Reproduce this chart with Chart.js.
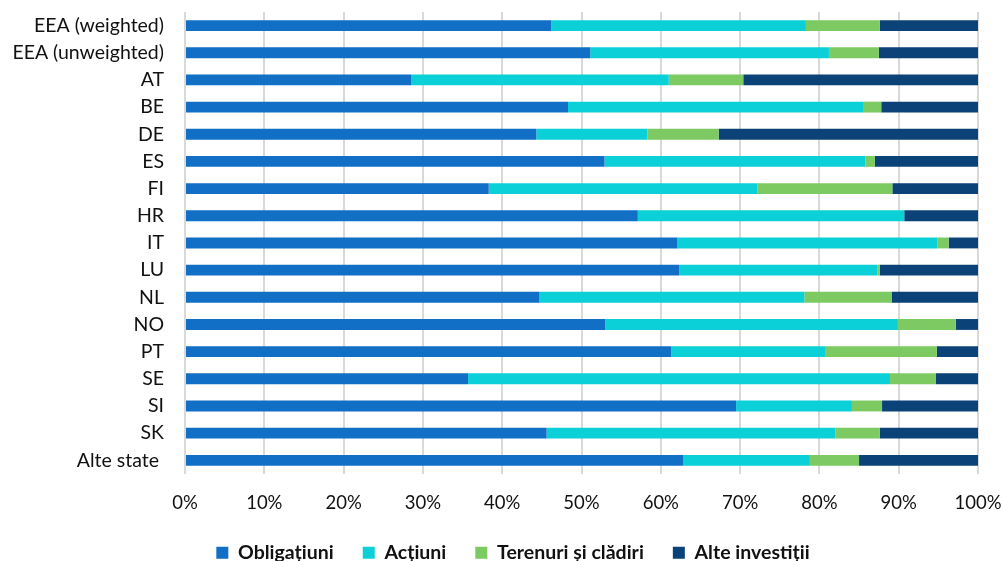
<!DOCTYPE html>
<html>
<head>
<meta charset="utf-8">
<script src="https://cdn.jsdelivr.net/npm/chart.js@4/dist/chart.umd.min.js"></script>
<style>
  html, body { margin: 0; padding: 0; background: #ffffff; overflow: hidden; }
  #wrap { width: 1002px; height: 561px; }
</style>
</head>
<body>
<div id="wrap"><canvas id="c" width="1002" height="561"></canvas></div>
<script>
const categories = ["EEA (weighted)", "EEA (unweighted)", "AT", "BE", "DE", "ES", "FI", "HR", "IT", "LU", "NL", "NO", "PT", "SE", "SI", "SK", "Alte state "];
const obligatiuni = [46.2, 51.1, 28.5, 48.3, 44.3, 52.9, 38.3, 57.1, 62.1, 62.3, 44.7, 53.0, 61.3, 35.7, 69.5, 45.6, 62.8];
const actiuni     = [32.1, 30.1, 32.5, 37.3, 14.0, 32.9, 33.9, 33.6, 32.8, 25.0, 33.4, 36.9, 19.5, 53.2, 14.6, 36.4, 16.0];
const terenuri    = [9.3, 6.3, 9.4, 2.2, 9.0, 1.2, 17.0, 0.0, 1.4, 0.3, 11.0, 7.3, 14.0, 5.8, 3.8, 5.6, 6.2];
const alte        = [12.4, 12.5, 29.6, 12.2, 32.7, 13.0, 10.8, 9.3, 3.7, 12.4, 10.9, 2.8, 5.2, 5.3, 12.1, 12.4, 15.0];
const seriesNames = ["Obligațiuni", "Acțiuni", "Terenuri și clădiri", "Alte investiții"];
const seriesColors = ["#116fc6", "#0cd0d8", "#7dca62", "#0b4278"];
const xTicks = [0, 10, 20, 30, 40, 50, 60, 70, 80, 90, 100];

const FONT = "Lato, 'Open Sans', sans-serif";
const TEXT = '#111111';
const seriesData = [obligatiuni, actiuni, terenuri, alte];

const legendShift = {
  id: 'legendShift',
  afterLayout(chart) {
    const l = chart.legend;
    if (l) { l.left += 24; l.right += 24; }
  }
};

new Chart(document.getElementById('c'), {
  type: 'bar',
  data: {
    labels: categories,
    datasets: seriesNames.map((n, i) => ({
      label: n,
      data: seriesData[i],
      backgroundColor: seriesColors[i],
      borderWidth: 0,
      barPercentage: 0.4,
      categoryPercentage: 1.0
    }))
  },
  plugins: [legendShift],
  options: {
    indexAxis: 'y',
    responsive: false,
    animation: false,
    layout: { padding: { top: 12, right: 24, left: 0, bottom: -11.6 } },
    scales: {
      x: {
        stacked: true,
        min: 0, max: 100,
        afterBuildTicks: (s) => { s.ticks = xTicks.map(v => ({ value: v })); },
        ticks: {
          callback: (v) => v + '%',
          color: TEXT,
          font: { family: FONT, size: 18.5 },
          padding: 0,
          maxRotation: 0
        },
        grid: { color: '#d9d9d9', lineWidth: 2, drawTicks: true, tickLength: 18, tickColor: 'rgba(0,0,0,0)' },
        border: { display: false }
      },
      y: {
        stacked: true,
        afterFit: (s) => { s.width = 185; },
        ticks: {
          color: TEXT,
          font: { family: FONT, size: 19.5 },
          padding: 0,
          autoSkip: false
        },
        grid: { display: true, drawOnChartArea: false, drawTicks: true, tickLength: 21, tickColor: 'rgba(0,0,0,0)', color: 'rgba(0,0,0,0)' },
        border: { display: false }
      }
    },
    plugins: {
      legend: {
        position: 'bottom',
        labels: {
          boxWidth: 12,
          boxHeight: 12,
          padding: 29,
          color: TEXT,
          font: { family: FONT, size: 19.5, weight: 'bold' }
        }
      },
      tooltip: { enabled: false }
    }
  }
});
</script>
</body>
</html>
